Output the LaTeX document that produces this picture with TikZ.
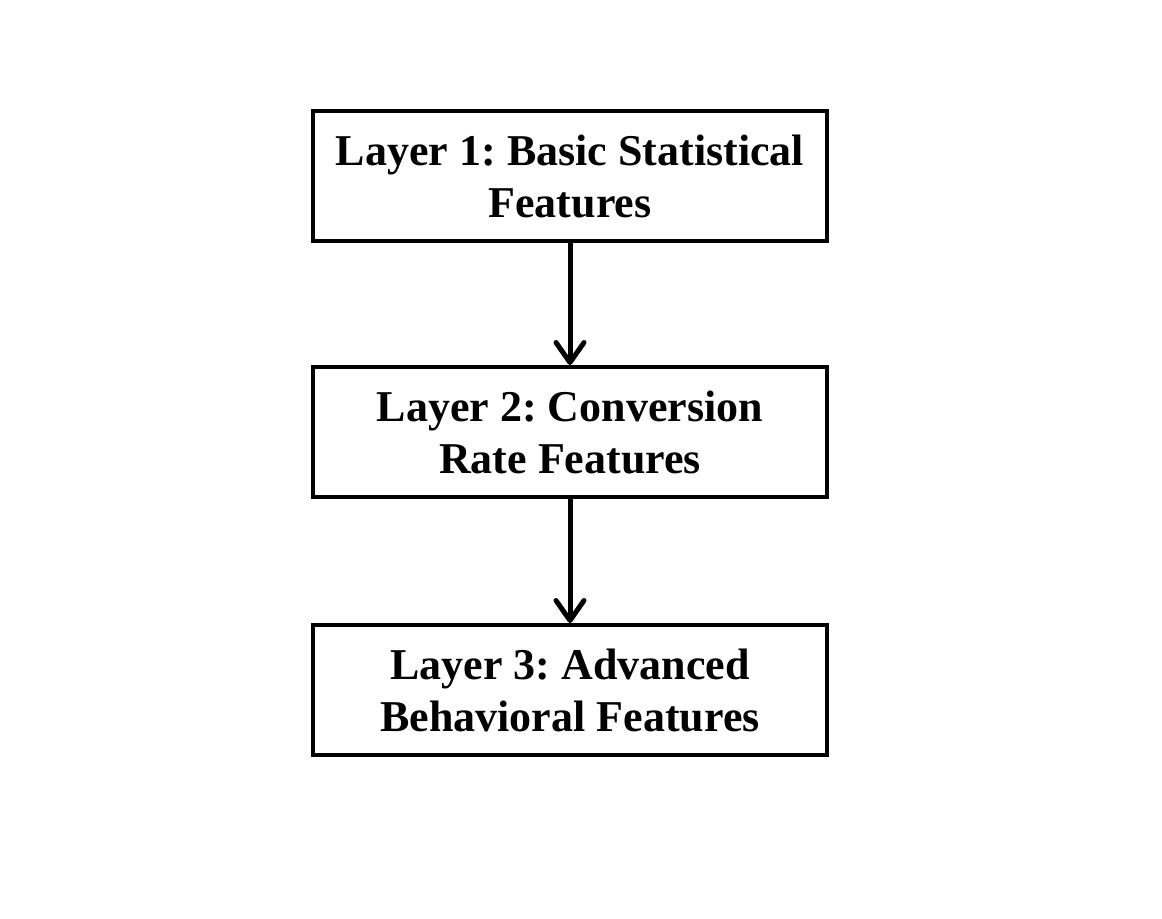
\documentclass[tikz,border=0pt]{standalone}
\usepackage{fontspec}
\setmainfont{Liberation Serif}
\frenchspacing
\usetikzlibrary{arrows.meta}
\tikzset{
  layerbox/.style={draw, line width=2pt, minimum width=257pt, minimum height=65pt,
    align=center, font=\fontsize{22}{26}\selectfont\bfseries, inner sep=0pt},
  layerarrow/.style={line width=2.5pt, -{Straight Barb[length=10pt, width=14pt, line cap=round, round]}}
}
\begin{document}
\begin{tikzpicture}[x=0.5pt,y=-0.5pt]
\useasboundingbox (0,0) rectangle (1162,918);

\node[layerbox] (layer1) at (570,176) {Layer 1: Basic Statistical\\Features};
\node[layerbox] (layer2) at (570,432) {Layer 2: Conversion\\Rate Features};
\node[layerbox] (layer3) at (570,690) {Layer 3: Advanced\\Behavioral Features};

\draw[layerarrow] (layer1.south) to (layer2.north);
\draw[layerarrow] (layer2.south) to (layer3.north);
\end{tikzpicture}
\end{document}
